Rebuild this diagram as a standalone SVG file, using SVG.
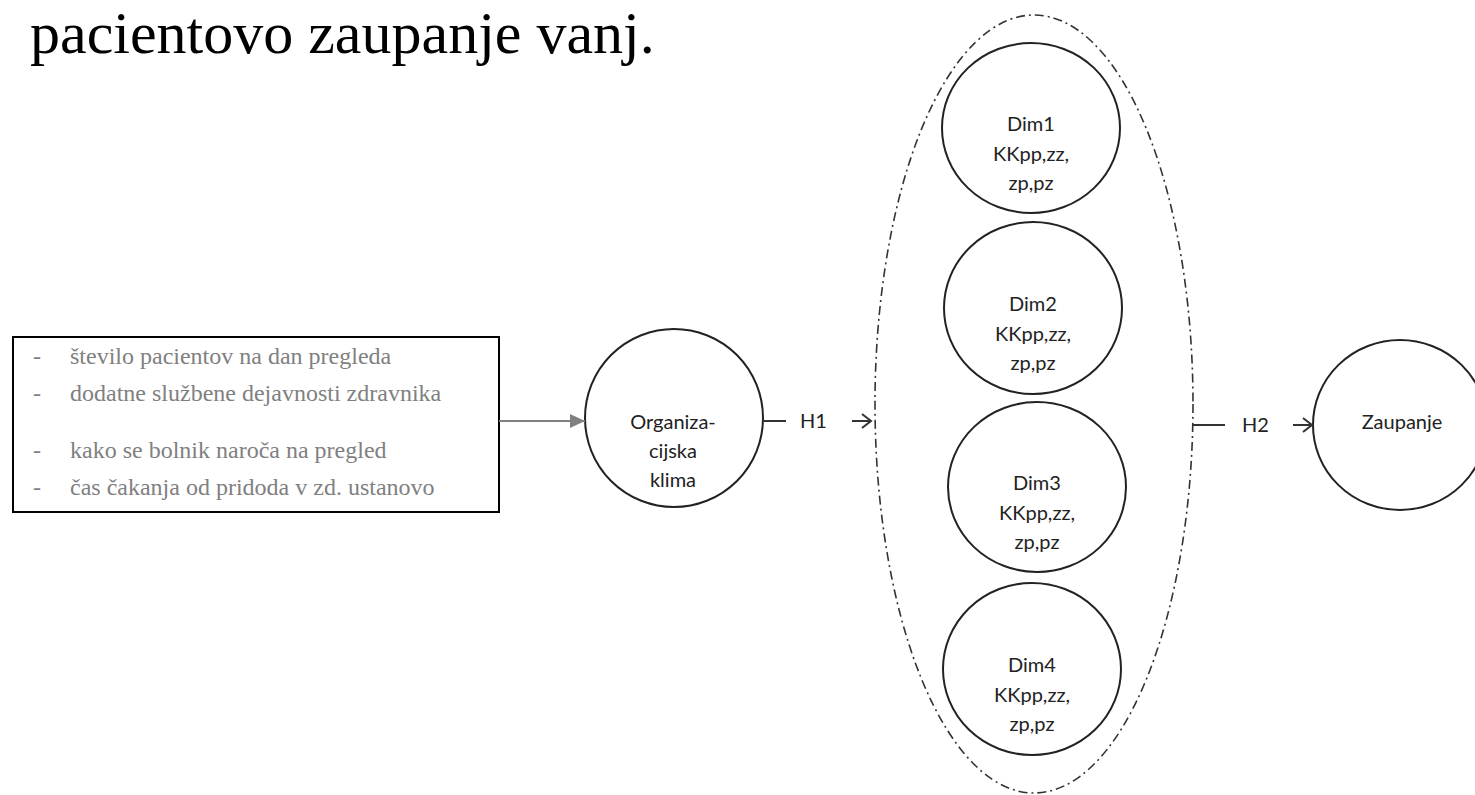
<svg xmlns="http://www.w3.org/2000/svg" width="1475" height="795" viewBox="0 0 1475 795">
<style>
.title{font-family:"Liberation Serif",serif;font-size:60px;fill:#000}
.box{fill:#fff;stroke:#000;stroke-width:2}
.btxt{font-family:"Liberation Serif",serif;font-size:24px;fill:#808080}
.node{fill:#fff;stroke:#222;stroke-width:2}
.ntxt{font-family:Lato,"Open Sans",sans-serif;font-size:20px;fill:#222;text-anchor:middle}
.group{fill:none;stroke:#333;stroke-width:1.6;stroke-dasharray:9 4 2 4}
.con{stroke:#333;stroke-width:2;fill:none}
.lbl{font-family:Lato,"Open Sans",sans-serif;font-size:20px;fill:#222}
</style>
<defs>
<marker id="tri" markerWidth="16" markerHeight="16" refX="15" refY="7" orient="auto" markerUnits="userSpaceOnUse">
<path d="M0,0 L15,7 L0,14 Z" fill="#808080"/>
</marker>
</defs>
<rect width="1475" height="795" fill="#fff"/>
<text class="title" x="30" y="53">pacientovo zaupanje vanj.</text>

<g id="group-ellipse">
<ellipse class="group" cx="1034" cy="404" rx="159" ry="389"/>
</g>

<g id="factors">
<rect class="box" x="13" y="337" width="486" height="175"/>
<text class="btxt"><tspan x="33" y="364">-</tspan><tspan x="70" y="364">število pacientov na dan pregleda</tspan></text>
<text class="btxt"><tspan x="33" y="401">-</tspan><tspan x="70" y="401">dodatne službene dejavnosti zdravnika</tspan></text>
<text class="btxt"><tspan x="33" y="458">-</tspan><tspan x="70" y="458">kako se bolnik naroča na pregled</tspan></text>
<text class="btxt"><tspan x="33" y="495">-</tspan><tspan x="70" y="495">čas čakanja od pridoda v zd. ustanovo</tspan></text>
</g>

<g id="organizacijska-klima">
<circle class="node" cx="674" cy="418" r="89"/>
<text class="ntxt"><tspan x="673" y="429">Organiza-</tspan><tspan x="673" y="458">cijska</tspan><tspan x="673" y="487">klima</tspan></text>
</g>

<g id="dim1">
<ellipse class="node" cx="1031" cy="128" rx="89" ry="85"/>
<text class="ntxt"><tspan x="1031" y="131">Dim1</tspan><tspan x="1031" y="161">KKpp,zz,</tspan><tspan x="1031" y="190">zp,pz</tspan></text>
</g>
<g id="dim2">
<ellipse class="node" cx="1033" cy="308" rx="89" ry="86"/>
<text class="ntxt"><tspan x="1033" y="311">Dim2</tspan><tspan x="1033" y="341">KKpp,zz,</tspan><tspan x="1033" y="370">zp,pz</tspan></text>
</g>
<g id="dim3">
<ellipse class="node" cx="1037" cy="487" rx="89" ry="85"/>
<text class="ntxt"><tspan x="1037" y="490">Dim3</tspan><tspan x="1037" y="520">KKpp,zz,</tspan><tspan x="1037" y="549">zp,pz</tspan></text>
</g>
<g id="dim4">
<ellipse class="node" cx="1032" cy="669" rx="89" ry="86"/>
<text class="ntxt"><tspan x="1032" y="672">Dim4</tspan><tspan x="1032" y="702">KKpp,zz,</tspan><tspan x="1032" y="731">zp,pz</tspan></text>
</g>

<g id="zaupanje">
<ellipse class="node" cx="1400" cy="425" rx="87" ry="85"/>
<text class="ntxt" x="1402" y="429">Zaupanje</text>
</g>

<g id="connectors">
<line x1="499" y1="421" x2="585" y2="421" stroke="#808080" stroke-width="2" marker-end="url(#tri)"/>
<line class="con" x1="763" y1="421" x2="786" y2="421"/>
<text class="lbl" x="800" y="428">H1</text>
<path class="con" d="M852,421 H871 M862,414 L871,421 L862,428"/>
<line class="con" x1="1193" y1="425" x2="1225" y2="425"/>
<text class="lbl" x="1242" y="432">H2</text>
<path class="con" d="M1293,425 H1312 M1303,418 L1312,425 L1303,432"/>
</g>
</svg>
